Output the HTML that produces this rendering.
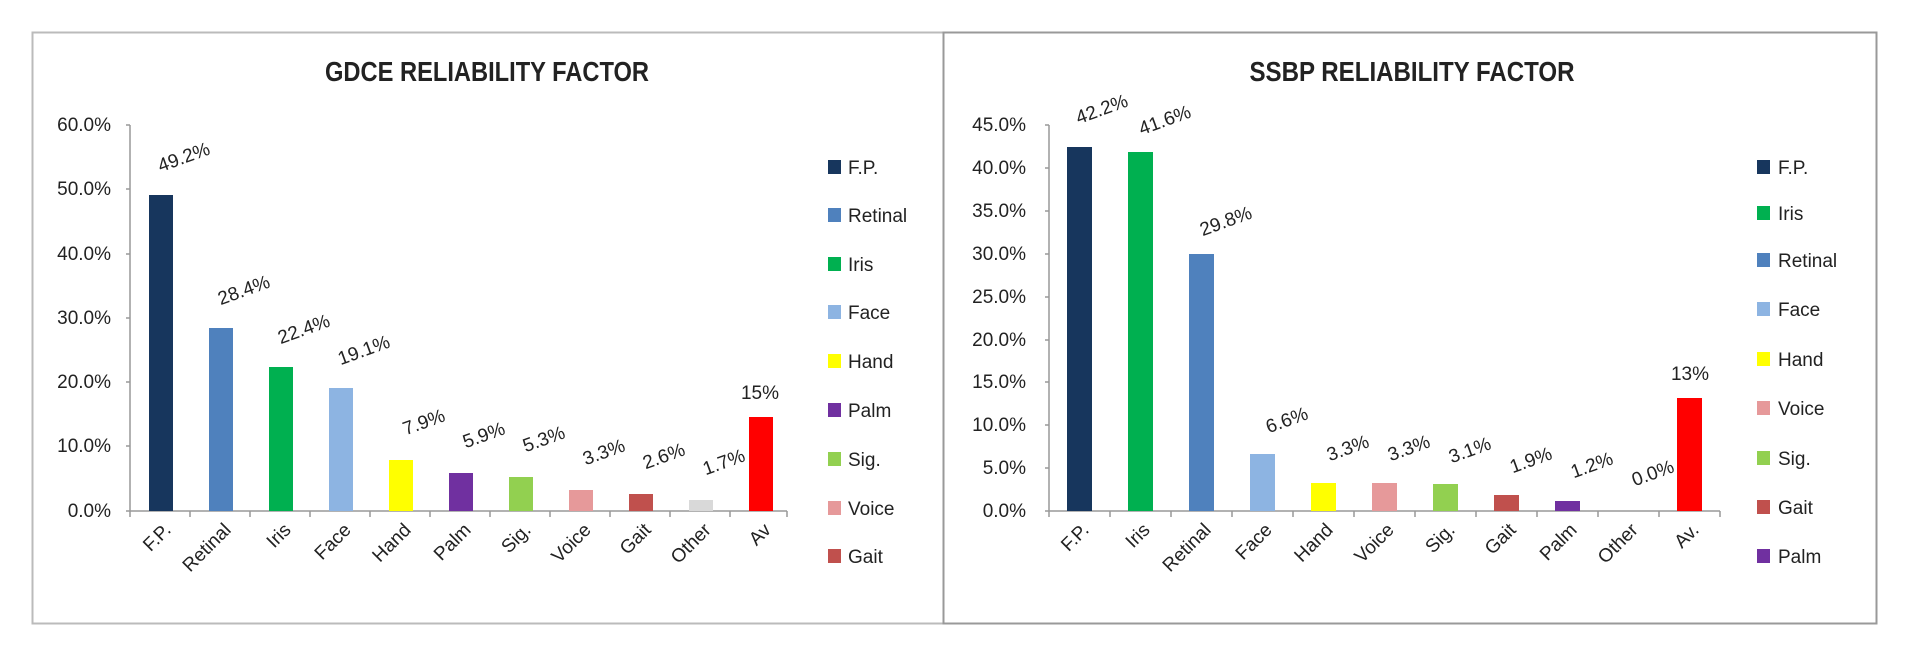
<!DOCTYPE html>
<html><head><meta charset="utf-8"><style>
html,body{margin:0;padding:0;background:#fff;}
svg{display:block;}
text{font-family:"Liberation Sans",sans-serif;fill:#222;}
</style></head><body>
<svg width="1920" height="652" viewBox="0 0 1920 652" xmlns="http://www.w3.org/2000/svg">
<rect width="1920" height="652" fill="#fff"/>
<rect x="32.5" y="32.5" width="911" height="591" fill="none" stroke="#bbb" stroke-width="2"/>
<rect x="943.5" y="32.5" width="933" height="591" fill="none" stroke="#999" stroke-width="2"/>

<text x="487" y="81" text-anchor="middle" font-size="28" font-weight="bold" textLength="324" lengthAdjust="spacingAndGlyphs">GDCE RELIABILITY FACTOR</text>
<g font-size="19" text-anchor="end">
<text x="111" y="131">60.0%</text><text x="111" y="195">50.0%</text><text x="111" y="260">40.0%</text><text x="111" y="324">30.0%</text><text x="111" y="388">20.0%</text><text x="111" y="452">10.0%</text><text x="111" y="517">0.0%</text>
</g>
<g stroke="#999" stroke-width="1.5">
<line x1="130" y1="125" x2="130" y2="511"/>
<line x1="126" y1="125" x2="130" y2="125"/><line x1="126" y1="189" x2="130" y2="189"/><line x1="126" y1="254" x2="130" y2="254"/><line x1="126" y1="318" x2="130" y2="318"/><line x1="126" y1="382" x2="130" y2="382"/><line x1="126" y1="446" x2="130" y2="446"/>
<line x1="126" y1="511" x2="787" y2="511"/>
<line x1="130" y1="511" x2="130" y2="517"/><line x1="190" y1="511" x2="190" y2="517"/><line x1="250" y1="511" x2="250" y2="517"/><line x1="310" y1="511" x2="310" y2="517"/><line x1="370" y1="511" x2="370" y2="517"/><line x1="430" y1="511" x2="430" y2="517"/><line x1="490" y1="511" x2="490" y2="517"/><line x1="550" y1="511" x2="550" y2="517"/><line x1="610" y1="511" x2="610" y2="517"/><line x1="670" y1="511" x2="670" y2="517"/><line x1="730" y1="511" x2="730" y2="517"/><line x1="787" y1="511" x2="787" y2="517"/>
</g>
<g>
<rect x="149" y="195" width="24" height="316" fill="#17365D"/>
<rect x="209" y="328" width="24" height="183" fill="#4F81BD"/>
<rect x="269" y="367" width="24" height="144" fill="#00B050"/>
<rect x="329" y="388" width="24" height="123" fill="#8DB4E2"/>
<rect x="389" y="460" width="24" height="51" fill="#FFFF00"/>
<rect x="449" y="473" width="24" height="38" fill="#7030A0"/>
<rect x="509" y="477" width="24" height="34" fill="#92D050"/>
<rect x="569" y="490" width="24" height="21" fill="#E6999A"/>
<rect x="629" y="494" width="24" height="17" fill="#C0504D"/>
<rect x="689" y="500" width="24" height="11" fill="#D9D9D9"/>
<rect x="749" y="417" width="24" height="94" fill="#FF0000"/>
</g>
<g font-size="19" text-anchor="middle">
<text transform="translate(186,163) rotate(-20)">49.2%</text>
<text transform="translate(246,296) rotate(-20)">28.4%</text>
<text transform="translate(306,335) rotate(-20)">22.4%</text>
<text transform="translate(366,356) rotate(-20)">19.1%</text>
<text transform="translate(426,428) rotate(-20)">7.9%</text>
<text transform="translate(486,441) rotate(-20)">5.9%</text>
<text transform="translate(546,445) rotate(-20)">5.3%</text>
<text transform="translate(606,458) rotate(-20)">3.3%</text>
<text transform="translate(666,462) rotate(-20)">2.6%</text>
<text transform="translate(726,468) rotate(-20)">1.7%</text>
<text x="760" y="399">15%</text>
</g>
<g font-size="19" text-anchor="end">
<text transform="translate(172,531) rotate(-45)">F.P.</text>
<text transform="translate(232,531) rotate(-45)">Retinal</text>
<text transform="translate(292,531) rotate(-45)">Iris</text>
<text transform="translate(352,531) rotate(-45)">Face</text>
<text transform="translate(412,531) rotate(-45)">Hand</text>
<text transform="translate(472,531) rotate(-45)">Palm</text>
<text transform="translate(532,531) rotate(-45)">Sig.</text>
<text transform="translate(592,531) rotate(-45)">Voice</text>
<text transform="translate(652,531) rotate(-45)">Gait</text>
<text transform="translate(712,531) rotate(-45)">Other</text>
<text transform="translate(772,531) rotate(-45)">Av</text>
</g>
<g font-size="19">
<rect x="828" y="160" width="13" height="14" fill="#17365D"/><text x="848" y="174">F.P.</text>
<rect x="828" y="208" width="13" height="14" fill="#4F81BD"/><text x="848" y="222">Retinal</text>
<rect x="828" y="257" width="13" height="14" fill="#00B050"/><text x="848" y="271">Iris</text>
<rect x="828" y="305" width="13" height="14" fill="#8DB4E2"/><text x="848" y="319">Face</text>
<rect x="828" y="354" width="13" height="14" fill="#FFFF00"/><text x="848" y="368">Hand</text>
<rect x="828" y="403" width="13" height="14" fill="#7030A0"/><text x="848" y="417">Palm</text>
<rect x="828" y="452" width="13" height="14" fill="#92D050"/><text x="848" y="466">Sig.</text>
<rect x="828" y="501" width="13" height="14" fill="#E6999A"/><text x="848" y="515">Voice</text>
<rect x="828" y="549" width="13" height="14" fill="#C0504D"/><text x="848" y="563">Gait</text>
</g>

<text x="1412" y="81" text-anchor="middle" font-size="28" font-weight="bold" textLength="325" lengthAdjust="spacingAndGlyphs">SSBP RELIABILITY FACTOR</text>
<g font-size="19" text-anchor="end">
<text x="1026" y="131">45.0%</text><text x="1026" y="174">40.0%</text><text x="1026" y="217">35.0%</text><text x="1026" y="260">30.0%</text><text x="1026" y="303">25.0%</text><text x="1026" y="346">20.0%</text><text x="1026" y="388">15.0%</text><text x="1026" y="431">10.0%</text><text x="1026" y="474">5.0%</text><text x="1026" y="517">0.0%</text>
</g>
<g stroke="#999" stroke-width="1.5">
<line x1="1049" y1="125" x2="1049" y2="511"/>
<line x1="1045" y1="125" x2="1049" y2="125"/><line x1="1045" y1="168" x2="1049" y2="168"/><line x1="1045" y1="211" x2="1049" y2="211"/><line x1="1045" y1="254" x2="1049" y2="254"/><line x1="1045" y1="297" x2="1049" y2="297"/><line x1="1045" y1="340" x2="1049" y2="340"/><line x1="1045" y1="382" x2="1049" y2="382"/><line x1="1045" y1="425" x2="1049" y2="425"/><line x1="1045" y1="468" x2="1049" y2="468"/>
<line x1="1045" y1="511" x2="1720" y2="511"/>
<line x1="1049" y1="511" x2="1049" y2="517"/><line x1="1110" y1="511" x2="1110" y2="517"/><line x1="1171" y1="511" x2="1171" y2="517"/><line x1="1232" y1="511" x2="1232" y2="517"/><line x1="1293" y1="511" x2="1293" y2="517"/><line x1="1354" y1="511" x2="1354" y2="517"/><line x1="1415" y1="511" x2="1415" y2="517"/><line x1="1476" y1="511" x2="1476" y2="517"/><line x1="1537" y1="511" x2="1537" y2="517"/><line x1="1598" y1="511" x2="1598" y2="517"/><line x1="1659" y1="511" x2="1659" y2="517"/><line x1="1720" y1="511" x2="1720" y2="517"/>
</g>
<g>
<rect x="1067" y="147" width="25" height="364" fill="#17365D"/>
<rect x="1128" y="152" width="25" height="359" fill="#00B050"/>
<rect x="1189" y="254" width="25" height="257" fill="#4F81BD"/>
<rect x="1250" y="454" width="25" height="57" fill="#8DB4E2"/>
<rect x="1311" y="483" width="25" height="28" fill="#FFFF00"/>
<rect x="1372" y="483" width="25" height="28" fill="#E6999A"/>
<rect x="1433" y="484" width="25" height="27" fill="#92D050"/>
<rect x="1494" y="495" width="25" height="16" fill="#C0504D"/>
<rect x="1555" y="501" width="25" height="10" fill="#7030A0"/>
<rect x="1677" y="398" width="25" height="113" fill="#FF0000"/>
</g>
<g font-size="19" text-anchor="middle">
<text transform="translate(1104,115) rotate(-20)">42.2%</text>
<text transform="translate(1167,126) rotate(-20)">41.6%</text>
<text transform="translate(1228,227) rotate(-20)">29.8%</text>
<text transform="translate(1289,426) rotate(-20)">6.6%</text>
<text transform="translate(1350,454) rotate(-20)">3.3%</text>
<text transform="translate(1411,454) rotate(-20)">3.3%</text>
<text transform="translate(1472,456) rotate(-20)">3.1%</text>
<text transform="translate(1533,466) rotate(-20)">1.9%</text>
<text transform="translate(1594,471) rotate(-20)">1.2%</text>
<text transform="translate(1655,479) rotate(-20)">0.0%</text>
<text x="1690" y="380">13%</text>
</g>
<g font-size="19" text-anchor="end">
<text transform="translate(1090,531) rotate(-45)">F.P.</text>
<text transform="translate(1151,531) rotate(-45)">Iris</text>
<text transform="translate(1212,531) rotate(-45)">Retinal</text>
<text transform="translate(1273,531) rotate(-45)">Face</text>
<text transform="translate(1334,531) rotate(-45)">Hand</text>
<text transform="translate(1395,531) rotate(-45)">Voice</text>
<text transform="translate(1456,531) rotate(-45)">Sig.</text>
<text transform="translate(1517,531) rotate(-45)">Gait</text>
<text transform="translate(1578,531) rotate(-45)">Palm</text>
<text transform="translate(1639,531) rotate(-45)">Other</text>
<text transform="translate(1700,531) rotate(-45)">Av.</text>
</g>
<g font-size="19">
<rect x="1757" y="160" width="13" height="14" fill="#17365D"/><text x="1778" y="174">F.P.</text>
<rect x="1757" y="206" width="13" height="14" fill="#00B050"/><text x="1778" y="220">Iris</text>
<rect x="1757" y="253" width="13" height="14" fill="#4F81BD"/><text x="1778" y="267">Retinal</text>
<rect x="1757" y="302" width="13" height="14" fill="#8DB4E2"/><text x="1778" y="316">Face</text>
<rect x="1757" y="352" width="13" height="14" fill="#FFFF00"/><text x="1778" y="366">Hand</text>
<rect x="1757" y="401" width="13" height="14" fill="#E6999A"/><text x="1778" y="415">Voice</text>
<rect x="1757" y="451" width="13" height="14" fill="#92D050"/><text x="1778" y="465">Sig.</text>
<rect x="1757" y="500" width="13" height="14" fill="#C0504D"/><text x="1778" y="514">Gait</text>
<rect x="1757" y="549" width="13" height="14" fill="#7030A0"/><text x="1778" y="563">Palm</text>
</g>
</svg>
</body></html>
